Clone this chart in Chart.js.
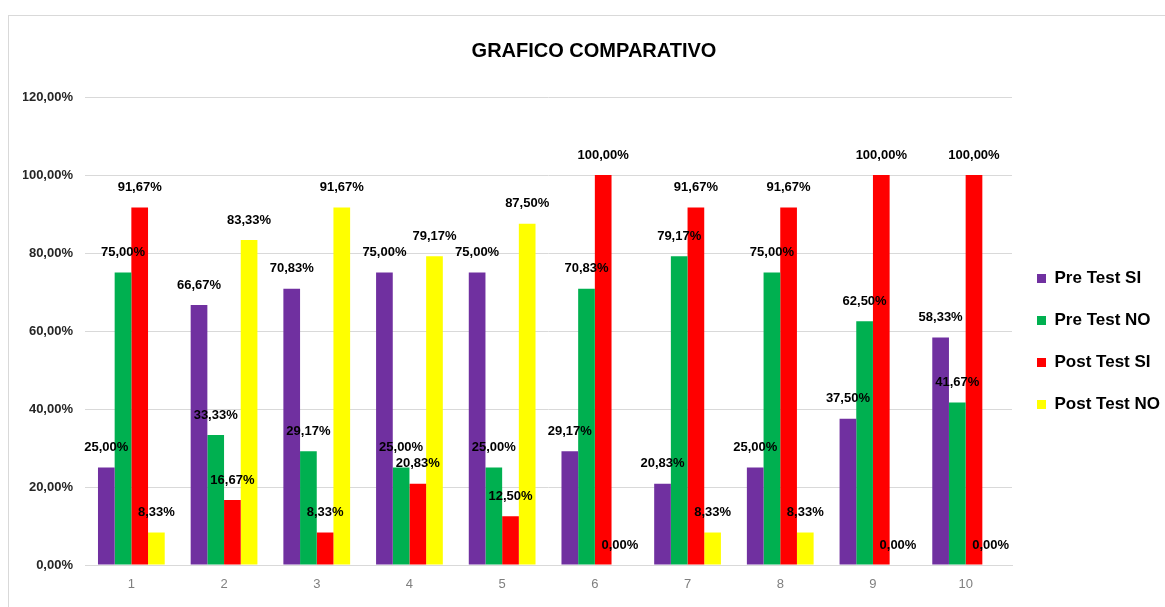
<!DOCTYPE html>
<html>
<head>
<meta charset="utf-8">
<script src="https://cdn.jsdelivr.net/npm/chart.js@4/dist/chart.umd.min.js"></script>
<style>
  html, body { margin: 0; padding: 0; background: #fff; }
  #frame {
    position: absolute; left: 8px; top: 15px;
    width: 1200px; height: 640px;
    border: 1px solid #d9d9d9;
  }
  #wrap { position: absolute; left: 0; top: 0; width: 1165px; height: 607px; }
</style>
</head>
<body>
<div id="frame"></div>
<div id="wrap"><canvas id="myChart" width="1165" height="607"></canvas></div>
<script>
// chart data
const categories = ["1", "2", "3", "4", "5", "6", "7", "8", "9", "10"];
const seriesNames = ["Pre Test SI", "Pre Test NO", "Post Test SI", "Post Test NO"];
const preTestSi = [25.00, 66.67, 70.83, 75.00, 75.00, 29.17, 20.83, 25.00, 37.50, 58.33];
const preTestNo = [75.00, 33.33, 29.17, 25.00, 25.00, 70.83, 79.17, 75.00, 62.50, 41.67];
const postTestSi = [91.67, 16.67, 8.33, 20.83, 12.50, 100.00, 91.67, 91.67, 100.00, 100.00];
const postTestNo = [8.33, 83.33, 91.67, 79.17, 87.50, 0.00, 8.33, 8.33, 0.00, 0.00];
const seriesColors = ["#7030A0", "#00B050", "#FF0000", "#FFFF00"];

const FONT = '"Liberation Sans", Arial, sans-serif';

function pct(v) {
  return v.toFixed(2).replace(".", ",") + "%";
}

// draws the value above each bar, like Excel's "outside end" labels
const valueLabels = {
  id: "valueLabels",
  afterDatasetsDraw(chart) {
    const { ctx } = chart;
    ctx.save();
    ctx.font = "bold 13px " + FONT;
    ctx.fillStyle = "#000";
    ctx.textAlign = "center";
    ctx.textBaseline = "middle";
    chart.data.datasets.forEach((ds, i) => {
      chart.getDatasetMeta(i).data.forEach((bar, j) => {
        ctx.fillText(pct(ds.data[j]), bar.x, bar.y - 20);
      });
    });
    ctx.restore();
  }
};

const ctx = document.getElementById("myChart");
const allSeries = [preTestSi, preTestNo, postTestSi, postTestNo];

new Chart(ctx, {
  type: "bar",
  data: {
    labels: categories,
    datasets: allSeries.map((values, i) => ({
      label: seriesNames[i],
      data: values,
      backgroundColor: seriesColors[i],
      borderWidth: 0,
      barPercentage: 1,
      categoryPercentage: 0.72
    }))
  },
  plugins: [valueLabels],
  options: {
    responsive: false,
    animation: false,
    layout: { padding: { left: 23, right: 0, top: 0, bottom: 0 } },
    scales: {
      x: {
        grid: { display: false, drawTicks: false },
        border: { color: "#d9d9d9", width: 1 },
        ticks: { color: "#7f7f7f", padding: 12, font: { family: FONT, size: 13 } },
        afterFit(scale) { scale.height = 42; }
      },
      y: {
        min: 0,
        max: 120,
        ticks: {
          stepSize: 20,
          color: "#262626",
          padding: 12,
          font: { family: FONT, size: 13, weight: "bold" },
          callback: v => pct(v)
        },
        grid: { color: "#d9d9d9", drawTicks: false },
        border: { display: false },
        afterFit(scale) { scale.width = 62; }
      }
    },
    plugins: {
      title: {
        display: true,
        text: "GRAFICO COMPARATIVO",
        color: "#000",
        font: { family: FONT, size: 20, weight: "bold" },
        padding: { top: 39.5, bottom: 33.5 }
      },
      legend: {
        position: "right",
        fullSize: false,
        maxWidth: 153,
        title: { display: true, text: "", font: { size: 10 }, padding: 4.5 },
        labels: {
          color: "#000",
          boxWidth: 9,
          boxHeight: 9,
          padding: 25,
          font: { family: FONT, size: 17, weight: "bold" }
        }
      },
      tooltip: { enabled: false }
    }
  }
});
</script>
</body>
</html>
